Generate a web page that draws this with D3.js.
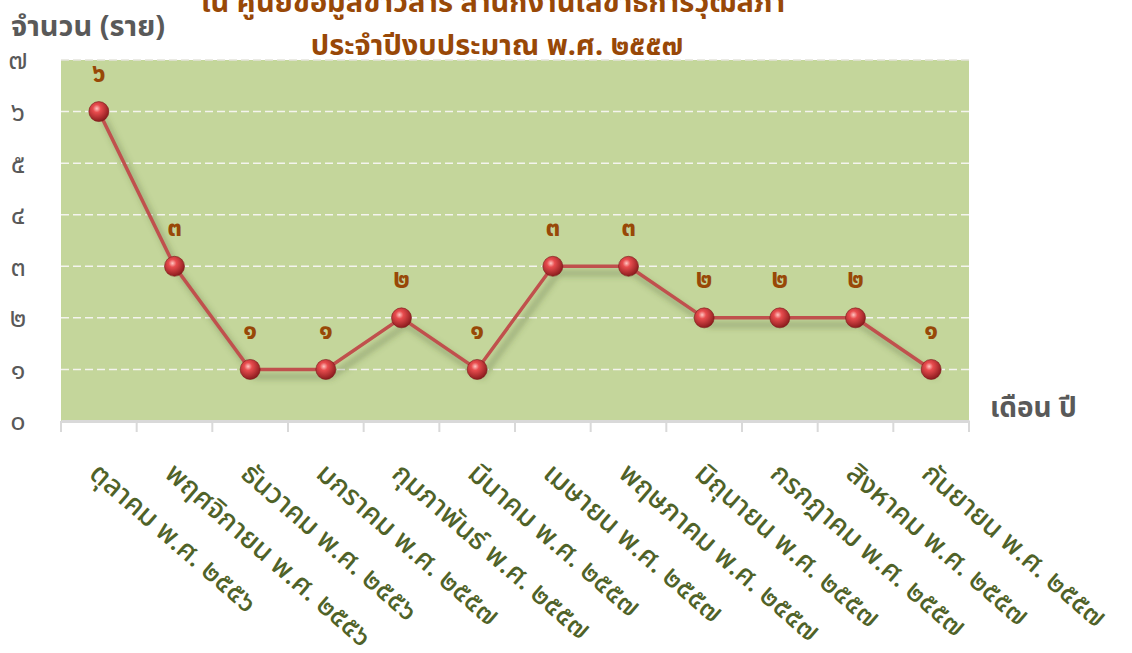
<!DOCTYPE html>
<html lang="th">
<head>
<meta charset="UTF-8">
<title>จำนวน (ราย)</title>
<script src="https://cdn.jsdelivr.net/npm/d3@7"></script>
<style>
  body { margin: 0; background: #fff; }
  svg { display: block; font-family: "Noto Sans", "Noto Sans Thai", "Noto Sans CJK SC", sans-serif; }
</style>
</head>
<body>
<div id="fig"></div>
<script>
const months = [
  "ตุลาคม พ.ศ. ๒๕๕๖", "พฤศจิกายน พ.ศ. ๒๕๕๖", "ธันวาคม พ.ศ. ๒๕๕๖",
  "มกราคม พ.ศ. ๒๕๕๗", "กุมภาพันธ์ พ.ศ. ๒๕๕๗", "มีนาคม พ.ศ. ๒๕๕๗",
  "เมษายน พ.ศ. ๒๕๕๗", "พฤษภาคม พ.ศ. ๒๕๕๗", "มิถุนายน พ.ศ. ๒๕๕๗",
  "กรกฎาคม พ.ศ. ๒๕๕๗", "สิงหาคม พ.ศ. ๒๕๕๗", "กันยายน พ.ศ. ๒๕๕๗"
]
const counts = [6, 3, 1, 1, 2, 1, 3, 3, 2, 2, 2, 1]
const yTicks = [0, 1, 2, 3, 4, 5, 6, 7]
const thaiDigits = ["๐", "๑", "๒", "๓", "๔", "๕", "๖", "๗", "๘", "๙"]
const toThai = n => String(n).split("").map(c => thaiDigits[+c]).join("")

const W = 1132, H = 653
const plot = {left: 61, right: 969, top: 60, bottom: 421}

let svg = d3.select("#fig").append("svg")
  .attr("width", W).attr("height", H)

const defs = svg.append("defs")
const grad = defs.append("radialGradient").attr("id", "ball")
  .attr("cx", "40%").attr("cy", "35%").attr("r", "65%")
grad.append("stop").attr("offset", "0%").attr("stop-color", "#ffc6c2")
grad.append("stop").attr("offset", "30%").attr("stop-color", "#e84c4e")
grad.append("stop").attr("offset", "100%").attr("stop-color", "#8c1c1e")
const shadow = defs.append("filter").attr("id", "shadow")
  .attr("x", "-20%").attr("y", "-20%").attr("width", "140%").attr("height", "140%")
shadow.append("feGaussianBlur").attr("stdDeviation", 3)

const xScale = d3.scaleBand().domain(d3.range(months.length))
  .range([plot.left, plot.right])
const yScale = d3.scaleLinear().domain([0, 7]).range([plot.bottom, plot.top])
const cx = i => xScale(i) + xScale.bandwidth() / 2

// plot background
svg.append("rect")
  .attr("x", plot.left).attr("y", plot.top)
  .attr("width", plot.right - plot.left).attr("height", plot.bottom - plot.top)
  .attr("fill", "#c4d69b")

// gridlines
svg.append("g").selectAll("line")
  .data(yTicks.filter(d => d > 0))
  .join("line")
  .attr("x1", plot.left).attr("x2", plot.right)
  .attr("y1", d => yScale(d)).attr("y2", d => yScale(d))
  .attr("stroke", d => d === 7 ? "#e3e3dc" : "#f4f4ee")
  .attr("stroke-width", 1.5)
  .attr("stroke-dasharray", "8,4")

// x axis
const xAxis = svg.append("g")
  .attr("transform", `translate(0,${plot.bottom})`)
  .call(d3.axisBottom(xScale).tickSize(0).tickFormat(""))
xAxis.select(".domain").attr("stroke", "#d9d9d9").attr("stroke-width", 3)
xAxis.selectAll(".bound")
  .data(d3.range(months.length + 1))
  .join("line")
  .attr("class", "bound")
  .attr("x1", i => plot.left + i * xScale.step()).attr("x2", i => plot.left + i * xScale.step())
  .attr("y1", 0).attr("y2", 11)
  .attr("stroke", "#d9d9d9").attr("stroke-width", 2)

svg.append("g").selectAll("text")
  .data(months)
  .join("text")
  .attr("transform", (d, i) => `translate(${cx(i) - 11},${plot.bottom + 55}) rotate(41)`)
  .attr("fill", "#4f6228")
  .attr("font-size", 28).attr("font-weight", 500)
  .text(d => d)

// y axis labels
svg.append("g").selectAll("text")
  .data(yTicks)
  .join("text")
  .attr("x", 18).attr("y", d => yScale(d))
  .attr("dy", "0.35em")
  .attr("text-anchor", "middle")
  .attr("fill", "#595959")
  .attr("font-size", 27)
  .text(d => toThai(d))

// line with shadow
const line = d3.line().x((d, i) => cx(i)).y(d => yScale(d))
svg.append("path").datum(counts)
  .attr("d", line)
  .attr("transform", "translate(5,7)")
  .attr("fill", "none").attr("stroke", "#4a5a30").attr("stroke-opacity", 0.45)
  .attr("stroke-width", 4).attr("filter", "url(#shadow)")
svg.append("path").datum(counts)
  .attr("d", line)
  .attr("fill", "none").attr("stroke", "#c0504d").attr("stroke-width", 3.5)

// markers
svg.append("g").selectAll("circle")
  .data(counts)
  .join("circle")
  .attr("cx", (d, i) => cx(i)).attr("cy", d => yScale(d))
  .attr("r", 10)
  .attr("fill", "url(#ball)")
  .attr("stroke", "#7a1a1a").attr("stroke-width", 0.6)

// data labels
svg.append("g").selectAll("text")
  .data(counts)
  .join("text")
  .attr("x", (d, i) => cx(i)).attr("y", d => yScale(d) - 30)
  .attr("text-anchor", "middle")
  .attr("fill", "#984807")
  .attr("font-size", 26).attr("font-weight", "bold")
  .text(d => toThai(d))

// titles
svg.append("text")
  .attr("x", 493).attr("y", 12)
  .attr("text-anchor", "middle")
  .attr("fill", "#984807").attr("font-size", 29).attr("font-weight", "bold")
  .text("ใน ศูนย์ข้อมูลข่าวสาร สำนักงานเลขาธิการวุฒิสภา")
svg.append("text")
  .attr("x", 497).attr("y", 55)
  .attr("text-anchor", "middle")
  .attr("fill", "#984807").attr("font-size", 29).attr("font-weight", "bold")
  .text("ประจำปีงบประมาณ พ.ศ. ๒๕๕๗")
svg.append("text")
  .attr("x", 11).attr("y", 36)
  .attr("fill", "#595959").attr("font-size", 29).attr("font-weight", "bold")
  .text("จำนวน (ราย)")
svg.append("text")
  .attr("x", 990).attr("y", 417)
  .attr("fill", "#595959").attr("font-size", 28).attr("font-weight", "bold")
  .text("เดือน ปี")
</script>
</body>
</html>
